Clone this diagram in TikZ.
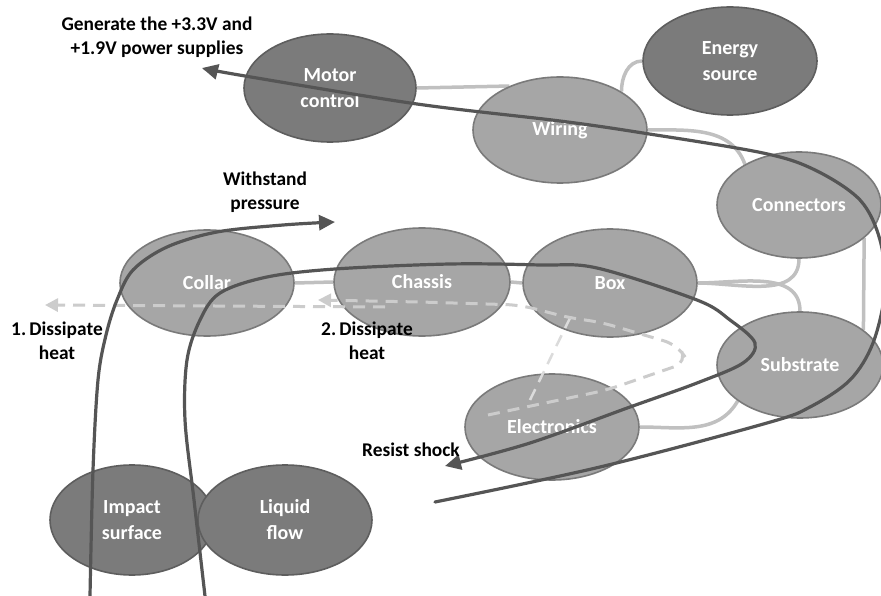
\documentclass[tikz,border=0pt]{standalone}
\usepackage{fontspec}
\setmainfont{Carlito}
\usetikzlibrary{backgrounds,arrows.meta,shapes.geometric}
\definecolor{darkfill}{HTML}{7B7B7B}
\definecolor{darkedge}{HTML}{5E5E5E}
\definecolor{lightfill}{HTML}{A6A6A6}
\definecolor{lightedge}{HTML}{7A7A7A}
\definecolor{linkgray}{HTML}{C0C0C0}
\definecolor{heatgray}{HTML}{CCCCCC}
\definecolor{flowgray}{HTML}{555555}
\tikzset{
  blob/.style={ellipse, inner sep=0pt, line width=1.6pt, text=white,
    font=\bfseries\fontsize{20}{26}\selectfont, align=center},
  darkblob/.style={blob, fill=darkfill, draw=darkedge},
  lightblob/.style={blob, fill=lightfill, draw=lightedge},
  link/.style={draw=linkgray, line width=3.5pt},
  heat/.style={draw=heatgray, line width=3pt, dash pattern=on 12pt off 8pt,
    -{Triangle[length=13pt,width=13pt,fill=heatgray]}},
  heatplain/.style={draw=heatgray, line width=3pt, dash pattern=on 12pt off 8pt},
  flow/.style={draw=flowgray, line width=3.2pt, line cap=round},
  flowarrow/.style={flow, -{Triangle[length=16pt,width=15pt]}},
  caption/.style={text=black, font=\bfseries\fontsize{19.4}{24}\selectfont, align=center}
}
\begin{document}
\begin{tikzpicture}[x=1pt,y=1pt]
\useasboundingbox (0,0) rectangle (881,-596);

% nodes
\node[darkblob, minimum width=172pt, minimum height=108pt] (motor) at (330,-88) {Motor\\control};
\node[darkblob, minimum width=174pt, minimum height=108pt] (energy) at (730,-61) {Energy\\source};
\node[lightblob, minimum width=174pt, minimum height=106pt] (wiring) at (560,-130) {Wiring};
\node[lightblob, minimum width=164pt, minimum height=106pt] (conn) at (799,-205) {Connectors};
\node[lightblob, minimum width=174pt, minimum height=106pt] (collar) at (207,-283) {Collar};
\node[lightblob, minimum width=176pt, minimum height=108pt] (chassis) at (422,-282) {Chassis};
\node[lightblob, minimum width=174pt, minimum height=108pt] (box) at (610,-283) {Box};
\node[lightblob, minimum width=166pt, minimum height=106pt] (subs) at (800,-365) {Substrate};
\node[lightblob, minimum width=174pt, minimum height=106pt] (elec) at (552,-427) {Electronics};
\node[darkblob, minimum width=164pt, minimum height=110pt] (impact) at (132,-520) {Impact\\surface};
\node[darkblob, minimum width=174pt, minimum height=110pt] (liquid) at (285,-520) {Liquid\\flow};

% light links behind the ellipses
\begin{scope}[on background layer]
\fill[white] (0,0) rectangle (881,-596);
\draw[link] (motor.east) -- (wiring.139);
\draw[link] (wiring.32) to[out=90,in=180] (energy.west);
\draw[link] (wiring.east) to[out=0,in=110] (conn.143);
\draw[link] (collar.east) -- (chassis.west);
\draw[link] (chassis.east) -- (box.west);
\draw[link] (box.east) to[out=0,in=-90] (conn.south);
\draw[link] (box.east) to[out=0,in=90] (subs.north);
\draw[link] (conn.-27) -- (subs.29);
\draw[link] (elec.east) to[out=0,in=-120] (subs.-150);
\end{scope}

% heat paths (dashed)
\coordinate (hA) at (385,-307);
\coordinate (hB) at (45,-305);
\draw[heat] (hA) -- (hB);
\coordinate (hE) at (530,-400);
\coordinate (hJ) at (570,-318);
\draw[heatplain, line width=2.5pt, draw=heatgray!70] (hE) -- (hJ);
\draw[heat, rounded corners=14pt] (488,-415) -- (607,-390) -- (688,-362) -- (678,-345) -- (600,-322) -- (hJ) -- (520,-305) -- (420,-302) -- (318,-300);

% dark flow curves
\draw[flowarrow] plot[smooth, tension=0.55] coordinates {
  (435,-502) (600,-467) (767,-423) (810,-407) (850,-380) (873,-343) (885,-290)
  (880,-240) (860,-200) (815,-170) (763,-153) (643,-133) (560,-121) (417,-104)
  (245,-76) (202,-68)};
\draw[flowarrow] plot[smooth, tension=0.55] coordinates {
  (90,-596) (93,-470) (98,-380) (106,-335) (117,-300) (133,-270) (167,-247)
  (217,-232) (283,-225) (335,-222)};
\draw[flowarrow] plot[smooth, tension=0.55] coordinates {
  (205,-596) (194,-500) (185,-420) (187,-360) (200,-320) (220,-293) (267,-277)
  (335,-269) (450,-264) (540,-265) (597,-268) (697,-300) (730,-320) (755,-343)
  (743,-363) (697,-383) (630,-407) (530,-443) (445,-466)};

% captions
\node[caption] (t1) at (157,-37) {Generate the +3.3V and\\+1.9V power supplies};
\node[caption] (t2) at (265,-192) {Withstand\\pressure};
\node[caption] (t3) at (57,-341) {1.\,Dissipate\\heat};
\node[caption] (t4) at (367,-341) {2.\,Dissipate\\heat};
\node[caption] (t5) at (411,-450) {Resist shock};
\end{tikzpicture}
\end{document}
